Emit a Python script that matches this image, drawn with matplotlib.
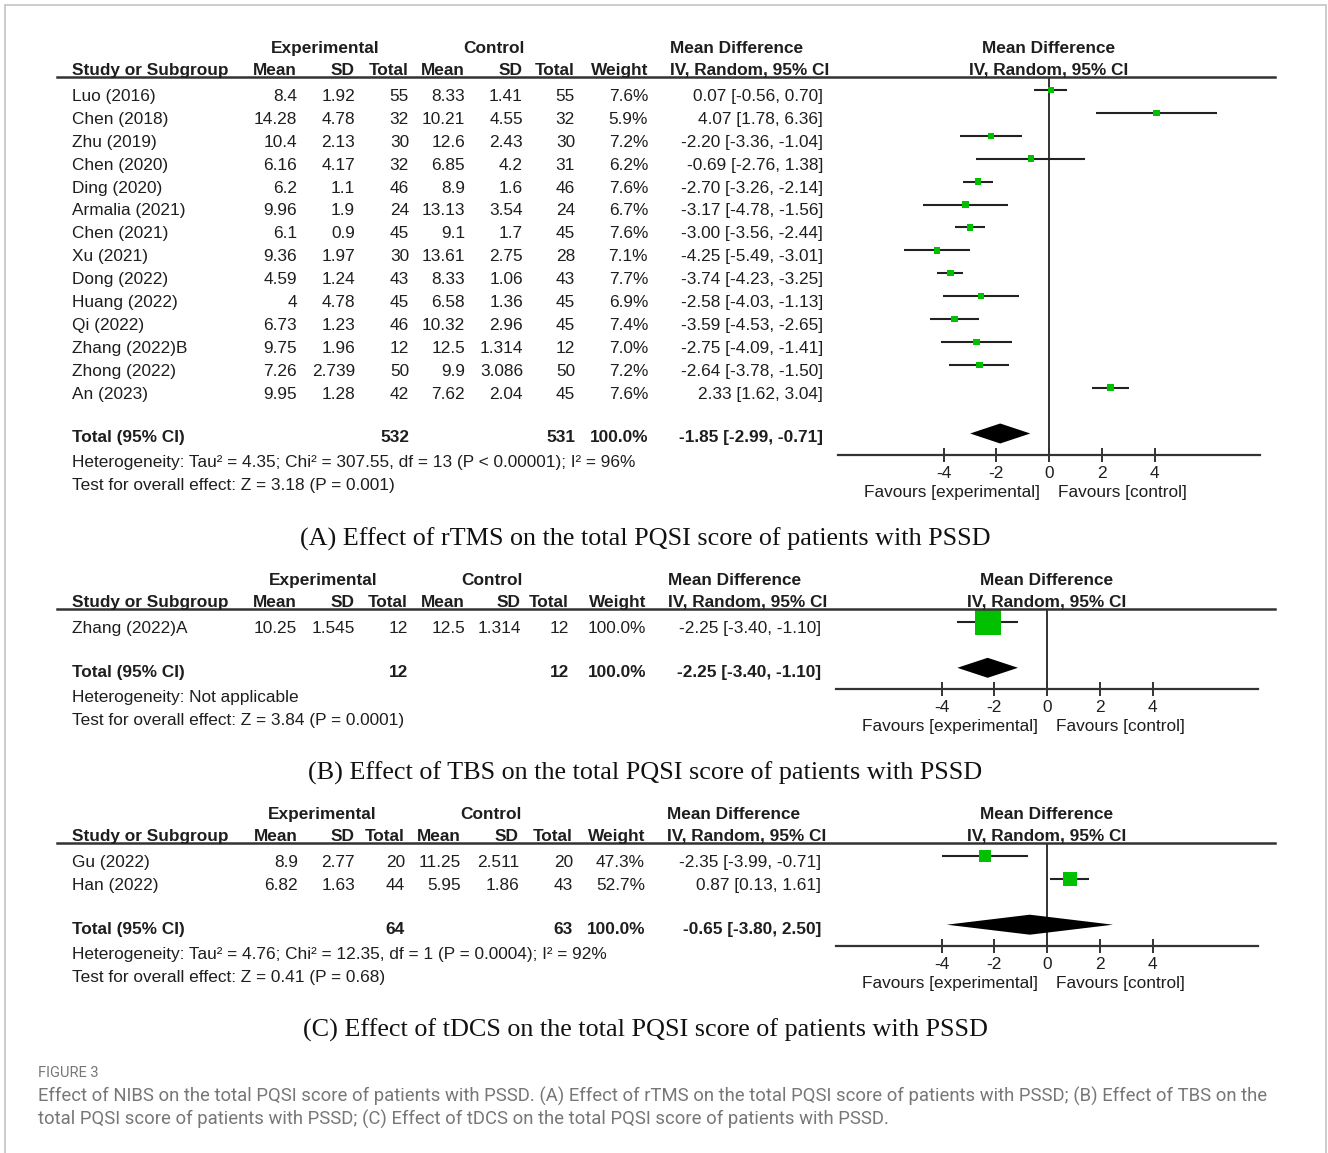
import matplotlib.pyplot as plt
from matplotlib.lines import Line2D
from matplotlib.patches import Rectangle

plt.rcParams['axes.unicode_minus'] = False

# ---- (A) rTMS ----
a_study = ['Luo (2016)', 'Chen (2018)', 'Zhu (2019)', 'Chen (2020)', 'Ding (2020)',
           'Armalia (2021)', 'Chen (2021)', 'Xu (2021)', 'Dong (2022)', 'Huang (2022)',
           'Qi (2022)', 'Zhang (2022)B', 'Zhong (2022)', 'An (2023)']
a_mean_e = [8.4, 14.28, 10.4, 6.16, 6.2, 9.96, 6.1, 9.36, 4.59, 4, 6.73, 9.75, 7.26, 9.95]
a_sd_e = [1.92, 4.78, 2.13, 4.17, 1.1, 1.9, 0.9, 1.97, 1.24, 4.78, 1.23, 1.96, 2.739, 1.28]
a_n_e = [55, 32, 30, 32, 46, 24, 45, 30, 43, 45, 46, 12, 50, 42]
a_mean_c = [8.33, 10.21, 12.6, 6.85, 8.9, 13.13, 9.1, 13.61, 8.33, 6.58, 10.32, 12.5, 9.9, 7.62]
a_sd_c = [1.41, 4.55, 2.43, 4.2, 1.6, 3.54, 1.7, 2.75, 1.06, 1.36, 2.96, 1.314, 3.086, 2.04]
a_n_c = [55, 32, 30, 31, 46, 24, 45, 28, 43, 45, 45, 12, 50, 45]
a_weight = [7.6, 5.9, 7.2, 6.2, 7.6, 6.7, 7.6, 7.1, 7.7, 6.9, 7.4, 7.0, 7.2, 7.6]
a_md = [0.07, 4.07, -2.20, -0.69, -2.70, -3.17, -3.00, -4.25, -3.74, -2.58, -3.59, -2.75, -2.64, 2.33]
a_lo = [-0.56, 1.78, -3.36, -2.76, -3.26, -4.78, -3.56, -5.49, -4.23, -4.03, -4.53, -4.09, -3.78, 1.62]
a_hi = [0.70, 6.36, -1.04, 1.38, -2.14, -1.56, -2.44, -3.01, -3.25, -1.13, -2.65, -1.41, -1.50, 3.04]
a_total = (532, 531, -1.85, -2.99, -0.71)
a_het = 'Heterogeneity: Tau² = 4.35; Chi² = 307.55, df = 13 (P < 0.00001); I² = 96%'
a_test = 'Test for overall effect: Z = 3.18 (P = 0.001)'
a_title = '(A) Effect of rTMS on the total PQSI score of patients with PSSD'

# ---- (B) TBS ----
b_study = ['Zhang (2022)A']
b_mean_e = [10.25]
b_sd_e = [1.545]
b_n_e = [12]
b_mean_c = [12.5]
b_sd_c = [1.314]
b_n_c = [12]
b_weight = [100.0]
b_md = [-2.25]
b_lo = [-3.40]
b_hi = [-1.10]
b_total = (12, 12, -2.25, -3.40, -1.10)
b_het = 'Heterogeneity: Not applicable'
b_test = 'Test for overall effect: Z = 3.84 (P = 0.0001)'
b_title = '(B) Effect of TBS on the total PQSI score of patients with PSSD'

# ---- (C) tDCS ----
c_study = ['Gu (2022)', 'Han (2022)']
c_mean_e = [8.9, 6.82]
c_sd_e = [2.77, 1.63]
c_n_e = [20, 44]
c_mean_c = [11.25, 5.95]
c_sd_c = [2.511, 1.86]
c_n_c = [20, 43]
c_weight = [47.3, 52.7]
c_md = [-2.35, 0.87]
c_lo = [-3.99, 0.13]
c_hi = [-0.71, 1.61]
c_total = (64, 63, -0.65, -3.80, 2.50)
c_het = 'Heterogeneity: Tau² = 4.76; Chi² = 12.35, df = 1 (P = 0.0004); I² = 92%'
c_test = 'Test for overall effect: Z = 0.41 (P = 0.68)'
c_title = '(C) Effect of tDCS on the total PQSI score of patients with PSSD'

caption_head = 'FIGURE 3'
caption = ['Effect of NIBS on the total PQSI score of patients with PSSD. (A) Effect of rTMS on the '
           'total PQSI score of patients with PSSD; (B) Effect of TBS on the',
           'total PQSI score of patients with PSSD; (C) Effect of tDCS on the total PQSI score of '
           'patients with PSSD.']

W, H = 1328, 1153
SANS = 'Liberation Sans'
SERIF = 'Liberation Serif'
FS = 12.4
INK = '#1e1e1e'
LINE = '#333333'
GREEN = '#00c000'
ROW = 22.9

fig = plt.figure(figsize=(W / 100, H / 100), dpi=100)


def put(x, y, s, ha='left', bold=False, size=FS, family=SANS, color=INK):
    # y is the visual centre of capitals, in pixels from the top
    fig.text(x / W, 1 - (y + size * 0.48) / H, s, ha=ha, va='baseline', fontsize=size,
             fontweight='bold' if bold else 'normal', family=family, color=color)


def fmt(v):
    return f'{v:g}'


def ci(md, lo, hi):
    return f'{md:.2f} [{lo:.2f}, {hi:.2f}]'


def draw_panel(study, mean_e, sd_e, n_e, mean_c, sd_c, n_c, weight, md, lo, hi,
               total, het, test, title, top, cols, x_axis):
    n = len(study)
    exp_c, ctl_c, md_left = cols[8], cols[9], cols[10]

    # header
    put(exp_c, top - 30, 'Experimental', ha='center', bold=True)
    put(ctl_c, top - 30, 'Control', ha='center', bold=True)
    put(md_left, top - 30, 'Mean Difference', bold=True)
    put(72, top - 8, 'Study or Subgroup', bold=True)
    for x, lab in zip(cols[:7], ['Mean', 'SD', 'Total', 'Mean', 'SD', 'Total', 'Weight']):
        put(x, top - 8, lab, ha='right', bold=True)
    put(md_left, top - 8, 'IV, Random, 95% CI', bold=True)
    zero_px = (x_axis[0] + x_axis[1]) / 2
    put(zero_px, top - 30, 'Mean Difference', ha='center', bold=True)
    put(zero_px, top - 8, 'IV, Random, 95% CI', ha='center', bold=True)
    fig.add_artist(Line2D([57 / W, 1275 / W], [1 - top / H] * 2, color=LINE, lw=1.8))

    # study rows
    for i in range(n):
        y = top + 18 + i * ROW
        put(72, y, study[i])
        vals = [fmt(mean_e[i]), fmt(sd_e[i]), str(n_e[i]), fmt(mean_c[i]), fmt(sd_c[i]),
                str(n_c[i]), f'{weight[i]:.1f}%', ci(md[i], lo[i], hi[i])]
        for x, v in zip(cols[:8], vals):
            put(x, y, v, ha='right')

    # totals
    y = top + 18 + (n + 1) * ROW - 2
    put(72, y, 'Total (95% CI)', bold=True)
    put(cols[2], y, str(total[0]), ha='right', bold=True)
    put(cols[5], y, str(total[1]), ha='right', bold=True)
    put(cols[6], y, '100.0%', ha='right', bold=True)
    put(cols[7], y, ci(*total[2:]), ha='right', bold=True)
    put(72, y + 25, het)
    put(72, y + 48, test)

    # forest plot
    y_bot = n + 1.92
    bottom_px = top + 13 + y_bot * ROW
    ax = fig.add_axes([x_axis[0] / W, 1 - bottom_px / H,
                       (x_axis[1] - x_axis[0]) / W, (bottom_px - top) / H])
    ax.set_xlim(-8, 8)
    ax.set_ylim(y_bot, -13 / ROW)
    ax.patch.set_alpha(0)
    rows = list(range(n))
    ax.hlines(rows, lo, hi, color='#222222', lw=1.5, zorder=2)
    sides = [max(27 * w / 100, 6.5) * 0.72 for w in weight]
    ax.scatter(md, rows, s=[s ** 2 for s in sides], marker='s', color=GREEN,
               linewidths=0, zorder=3)
    yd = n + 1
    h = 10 / ROW
    ax.fill([total[3], total[2], total[4], total[2]], [yd, yd - h, yd, yd + h],
            color='black', lw=0, zorder=3)
    ax.axvline(0, color=LINE, lw=1.4, zorder=1)
    for side in ['left', 'right', 'top']:
        ax.spines[side].set_visible(False)
    ax.spines['bottom'].set_color(LINE)
    ax.spines['bottom'].set_linewidth(1.6)
    ax.set_yticks([])
    ax.set_xticks([-4, -2, 0, 2, 4])
    ax.tick_params(axis='x', direction='inout', length=10, width=1.4, color=LINE,
                   labelsize=FS, labelcolor=INK, pad=3)
    for t in ax.get_xticklabels():
        t.set_family(SANS)
    ax.annotate('Favours [experimental]', xy=(0, 0), xycoords=('data', 'axes fraction'),
                xytext=(-9, -38), textcoords='offset pixels', ha='right', va='center',
                fontsize=FS, family=SANS, color=INK)
    ax.annotate('Favours [control]', xy=(0, 0), xycoords=('data', 'axes fraction'),
                xytext=(9, -38), textcoords='offset pixels', ha='left', va='center',
                fontsize=FS, family=SANS, color=INK)

    # panel title
    put(645, bottom_px + 82, title, ha='center', size=18.8, family=SERIF, color='#111111')


draw_panel(a_study, a_mean_e, a_sd_e, a_n_e, a_mean_c, a_sd_c, a_n_c, a_weight,
           a_md, a_lo, a_hi, a_total, a_het, a_test, a_title, 77,
           [297, 355, 409, 465, 523, 575, 648, 823, 325, 494, 670], (838, 1260))
draw_panel(b_study, b_mean_e, b_sd_e, b_n_e, b_mean_c, b_sd_c, b_n_c, b_weight,
           b_md, b_lo, b_hi, b_total, b_het, b_test, b_title, 609,
           [297, 355, 408, 465, 521, 569, 646, 821, 323, 492, 668], (836, 1258))
draw_panel(c_study, c_mean_e, c_sd_e, c_n_e, c_mean_c, c_sd_c, c_n_c, c_weight,
           c_md, c_lo, c_hi, c_total, c_het, c_test, c_title, 843,
           [298, 355, 405, 461, 519, 573, 645, 821, 322, 491, 667], (836, 1258))

# caption
put(38, 1072, caption_head, size=10.5, family='Roboto', color='#777777')
put(38, 1095, caption[0], size=13.3, family='Roboto', color='#777777')
put(38, 1118, caption[1], size=13.3, family='Roboto', color='#777777')

# outer frame
fig.add_artist(Rectangle((5 / W, -0.1), 1321 / W, 1.1 - 5 / H, fill=False,
                         edgecolor='#c4c4c4', lw=1.2, transform=fig.transFigure))

fig.savefig('out.png', dpi=100)
